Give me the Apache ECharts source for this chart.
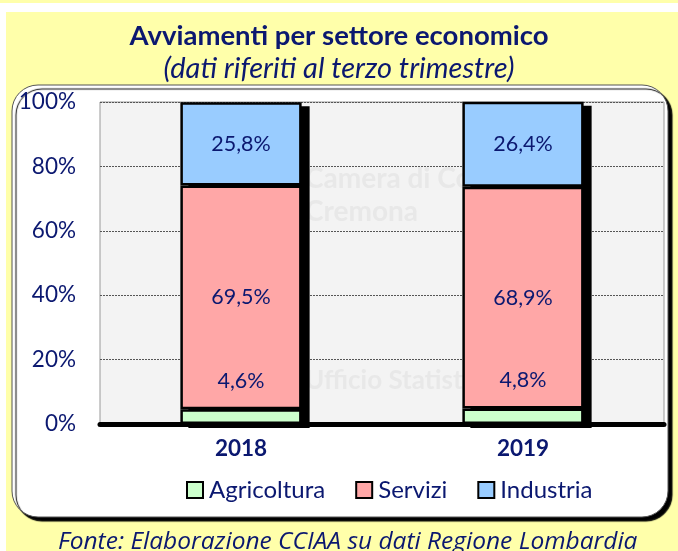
<!DOCTYPE html>
<html><head><meta charset="utf-8">
<script src="https://cdn.jsdelivr.net/npm/echarts@6/dist/echarts.min.js"></script>
<style>html,body{margin:0;padding:0;background:#fff}#c{width:678px;height:551px}</style>
</head><body><div id="c"></div>
<script>
const categories = ['2018', '2019'];
const agricoltura = [4.6, 4.8];
const servizi = [69.5, 68.9];
const industria = [25.8, 26.4];
const yTicks = [0, 20, 40, 60, 80, 100];
const seriesNames = ['Agricoltura', 'Servizi', 'Industria'];
const colors = ['#CCFFCC', '#FFA7A7', '#99CCFF'];

const navy = '#0B1870';
const FONT = 'Lato';
const BARW = 0.43;
const chart = echarts.init(document.getElementById('c'), null, {renderer: 'canvas'});

function fmt(v) { return v.toFixed(1).replace('.', ',') + '%'; }

const totals = categories.map((c, i) => [i, agricoltura[i] + servizi[i] + industria[i]]);

const common = {
  type: 'bar', stack: 'tot', barWidth: (BARW * 100) + '%',
  itemStyle: {borderColor: '#000', borderWidth: 2.5}
};
const lbl = {show: true, formatter: p => fmt(p.value), fontFamily: FONT, fontSize: 21.5, color: navy};

chart.setOption({
  animation: false,
  backgroundColor: '#fff',
  graphic: [
    {type: 'rect', z: -10, shape: {x: 0, y: 0, width: 678, height: 3}, style: {fill: '#FFFFAA'}},
    {type: 'rect', z: -10, shape: {x: 6, y: 12, width: 672, height: 539}, style: {fill: '#FFFFAA'}},
    {type: 'rect', z: -9, shape: {x: 12, y: 85, width: 656, height: 432, r: 26},
      style: {fill: '#fff', stroke: '#555', lineWidth: 1, shadowColor: '#000', shadowOffsetX: 4, shadowOffsetY: 4, shadowBlur: 1}},
    {type: 'text', z: 1, left: 305, top: 165, style: {text: 'Camera di Commercio', fill: '#E8E8E8', font: 'bold 28px "Liberation Sans Narrow", ' + FONT}},
    {type: 'text', z: 1, left: 305, top: 198, style: {text: 'Cremona', fill: '#E8E8E8', font: 'bold 28px "Liberation Sans Narrow", ' + FONT}},
    {type: 'text', z: 1, left: 305, top: 368, style: {text: 'Ufficio Statistica', fill: '#E8E8E8', font: 'bold 26px "Liberation Sans Narrow", ' + FONT}}
  ],
  title: [
    {text: 'Avviamenti per settore economico', left: 'center', top: 17,
      textStyle: {fontFamily: FONT, fontWeight: 'bold', fontSize: 27.5, color: navy}},
    {text: '(dati riferiti al terzo trimestre)', left: 'center', top: 49,
      textStyle: {fontFamily: FONT, fontStyle: 'italic', fontWeight: 'normal', fontSize: 29, color: navy}},
    {text: 'Fonte: Elaborazione CCIAA su dati Regione Lombardia', left: 53, top: 525,
      textStyle: {fontFamily: '"Open Sans"', fontStyle: 'italic', fontWeight: 'normal', fontSize: 24.5, color: navy}}
  ],
  legend: {
    data: seriesNames, left: 186, top: 478, padding: 0, itemWidth: 16, itemHeight: 16, itemGap: 30,
    icon: 'rect',
    itemStyle: {borderColor: '#000', borderWidth: 2},
    textStyle: {fontFamily: FONT, fontSize: 24, color: navy, padding: [0, 0, 0, 1]}
  },
  grid: {left: 100, right: 14, top: 102, bottom: 127, show: true, backgroundColor: '#F3F3F3', borderColor: '#999', borderWidth: 1},
  xAxis: {
    type: 'category', data: categories, z: 10,
    axisLine: {lineStyle: {color: '#000', width: 5}},
    axisTick: {show: false},
    axisLabel: {fontFamily: FONT, fontWeight: 'bold', fontSize: 22.5, color: navy, margin: 13}
  },
  yAxis: {
    type: 'value', min: 0, max: 100, interval: 20,
    axisLine: {show: false}, axisTick: {show: false},
    splitLine: {lineStyle: {color: '#555', type: [2, 1], width: 1}},
    axisLabel: {fontFamily: FONT, fontSize: 22.5, color: navy, margin: 24,
      formatter: v => yTicks.includes(v) ? v + '%' : ''}
  },
  series: [
    {type: 'custom', z: 2, data: totals, silent: true,
      renderItem: (params, api) => {
        const top = api.coord([api.value(0), api.value(1)]);
        const bot = api.coord([api.value(0), 0]);
        const w = api.size([1, 0])[0] * BARW;
        return {type: 'rect', shape: {x: top[0] - w / 2 + 8, y: top[1] + 4, width: w, height: bot[1] - top[1]}, style: {fill: '#000'}};
      }},
    Object.assign({}, common, {name: seriesNames[0], data: agricoltura, z: 5,
      itemStyle: Object.assign({}, common.itemStyle, {color: colors[0]}),
      label: Object.assign({}, lbl, {position: 'top', distance: 17})}),
    Object.assign({}, common, {name: seriesNames[1], data: servizi, z: 4,
      itemStyle: Object.assign({}, common.itemStyle, {color: colors[1]}),
      label: Object.assign({}, lbl, {position: 'inside'})}),
    Object.assign({}, common, {name: seriesNames[2], data: industria, z: 3,
      itemStyle: Object.assign({}, common.itemStyle, {color: colors[2]}),
      label: Object.assign({}, lbl, {position: 'inside'})})
  ]
});
</script></body></html>
